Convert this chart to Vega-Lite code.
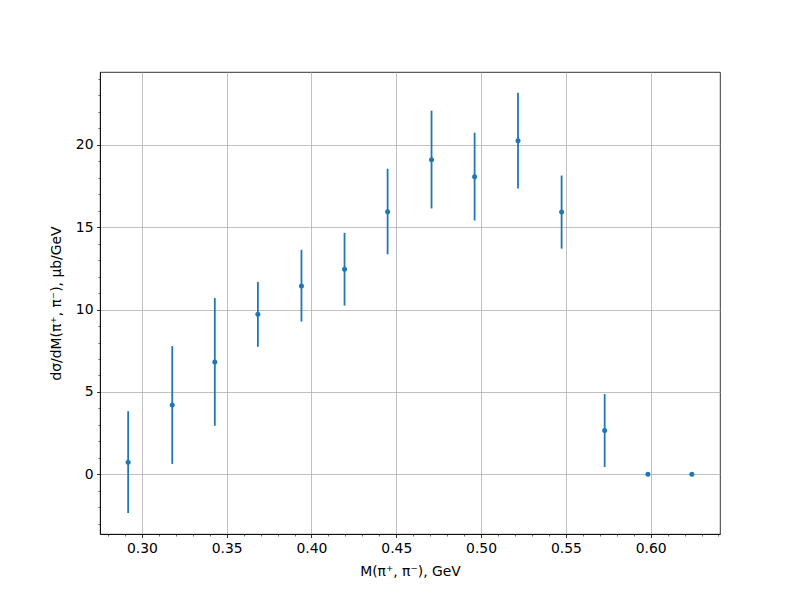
{
  "$schema": "https://vega.github.io/schema/vega-lite/v6.json",
  "width": 620,
  "height": 462,
  "autosize": {"type": "none"},
  "padding": {"left": 100, "top": 72, "right": 80, "bottom": 66},
  "background": "white",
  "config": {
    "view": {"stroke": "black", "strokeWidth": 0.8},
    "axis": {
      "labelFont": "DejaVu Sans",
      "labelFontSize": 13.9,
      "labelColor": "black",
      "titleFont": "DejaVu Sans",
      "titleFontSize": 13.9,
      "titleFontWeight": "normal",
      "titleColor": "black",
      "domainColor": "black",
      "domainWidth": 0.8,
      "tickColor": "black",
      "tickWidth": 0.8,
      "gridColor": "#b0b0b0",
      "gridWidth": 0.8,
      "gridOpacity": 1
    }
  },
  "data": {
    "values": [
      {"m": 0.2919, "v": 0.73, "lo": -2.35, "hi": 3.83},
      {"m": 0.3179, "v": 4.2, "lo": 0.63, "hi": 7.78},
      {"m": 0.343, "v": 6.82, "lo": 2.94, "hi": 10.7},
      {"m": 0.3684, "v": 9.71, "lo": 7.74, "hi": 11.68},
      {"m": 0.3941, "v": 11.43, "lo": 9.27, "hi": 13.63},
      {"m": 0.4195, "v": 12.45, "lo": 10.24, "hi": 14.66},
      {"m": 0.4449, "v": 15.94, "lo": 13.36, "hi": 18.55},
      {"m": 0.4708, "v": 19.1, "lo": 16.14, "hi": 22.08},
      {"m": 0.4962, "v": 18.07, "lo": 15.41, "hi": 20.74},
      {"m": 0.5218, "v": 20.25, "lo": 17.35, "hi": 23.17},
      {"m": 0.5475, "v": 15.92, "lo": 13.7, "hi": 18.14},
      {"m": 0.5729, "v": 2.66, "lo": 0.44, "hi": 4.87},
      {"m": 0.5984, "v": 0, "lo": 0, "hi": 0},
      {"m": 0.6243, "v": 0, "lo": 0, "hi": 0}
    ]
  },
  "layer": [
    {
      "mark": {"type": "rule", "color": "#1f77b4", "strokeWidth": 1.8},
      "encoding": {
        "x": {
          "field": "m", "type": "quantitative",
          "scale": {"domain": [0.2753, 0.6409], "nice": false, "zero": false},
          "axis": {
            "orient": "bottom",
            "values": [0.30, 0.35, 0.40, 0.45, 0.50, 0.55, 0.60],
            "format": ".2f",
            "grid": true,
            "tickSize": 3.5,
            "labelPadding": 3.5,
            "title": "M(π⁺, π⁻), GeV",
            "titlePadding": 10
          }
        },
        "y": {
          "field": "lo", "type": "quantitative",
          "scale": {"domain": [-3.625, 24.425], "nice": false, "zero": false},
          "axis": {
            "orient": "left",
            "values": [0, 5, 10, 15, 20],
            "grid": true,
            "tickSize": 3.5,
            "labelPadding": 3.5,
            "title": "dσ/dM(π⁺, π⁻), μb/GeV",
            "titlePadding": 12
          }
        },
        "y2": {"field": "hi"}
      }
    },
    {
      "mark": {"type": "point", "filled": true, "size": 25, "color": "#1f77b4", "opacity": 1},
      "encoding": {
        "x": {
          "field": "m", "type": "quantitative",
          "scale": {"domain": [0.2753, 0.6409], "nice": false, "zero": false},
          "axis": {
            "orient": "bottom",
            "values": [0.28, 0.29, 0.31, 0.32, 0.33, 0.34, 0.36, 0.37, 0.38, 0.39, 0.41, 0.42, 0.43, 0.44, 0.46, 0.47, 0.48, 0.49, 0.51, 0.52, 0.53, 0.54, 0.56, 0.57, 0.58, 0.59, 0.61, 0.62, 0.63, 0.64],
            "labels": false,
            "grid": false,
            "domain": false,
            "tickSize": 2,
            "tickWidth": 0.6,
            "title": null
          }
        },
        "y": {
          "field": "v", "type": "quantitative",
          "scale": {"domain": [-3.625, 24.425], "nice": false, "zero": false},
          "axis": {
            "orient": "left",
            "values": [-3, -2, -1, 1, 2, 3, 4, 6, 7, 8, 9, 11, 12, 13, 14, 16, 17, 18, 19, 21, 22, 23, 24],
            "labels": false,
            "grid": false,
            "domain": false,
            "tickSize": 2,
            "tickWidth": 0.6,
            "title": null
          }
        }
      }
    }
  ],
  "resolve": {"axis": {"x": "independent", "y": "independent"}}
}
